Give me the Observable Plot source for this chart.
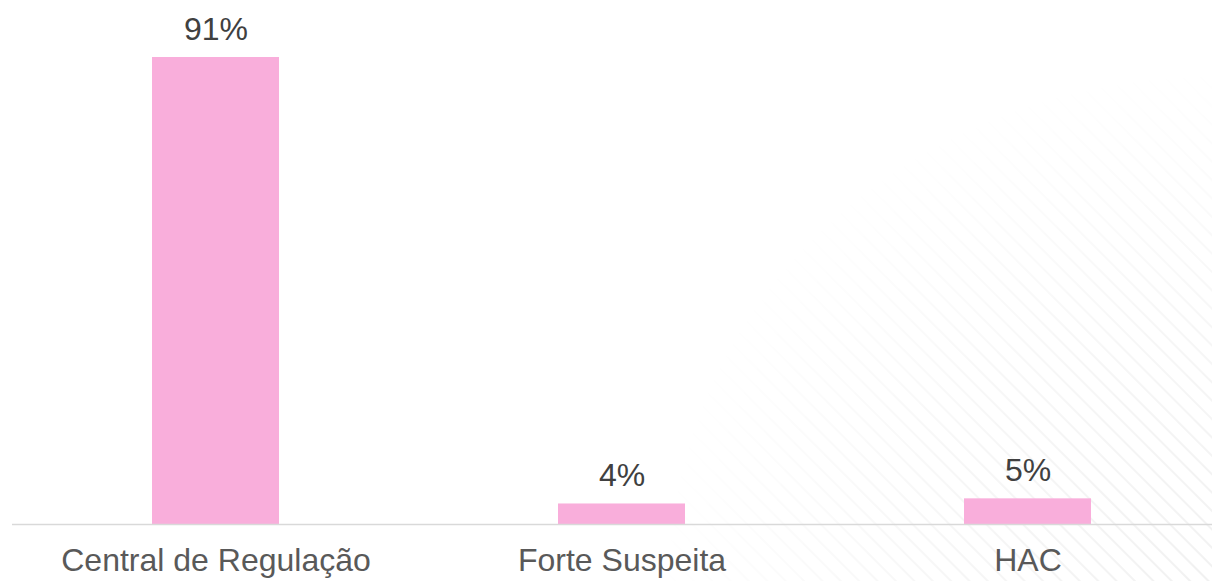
<!DOCTYPE html>
<html>
<head>
<meta charset="utf-8">
<script src="https://cdn.jsdelivr.net/npm/d3@7"></script>
<script src="https://cdn.jsdelivr.net/npm/@observablehq/plot@0.6"></script>
<style>
  html, body { margin: 0; padding: 0; background: #fff; overflow: hidden; }
  #wrap { position: relative; width: 1212px; height: 581px; }
  #hatch {
    position: absolute; left: 0; top: 0; width: 1212px; height: 581px;
    background: repeating-linear-gradient(45deg, rgba(0,0,0,0) 0px, rgba(0,0,0,0) 8px, rgba(0,0,0,0.055) 9px, rgba(0,0,0,0.055) 10px, rgba(0,0,0,0) 11px, rgba(0,0,0,0) 13px);
    -webkit-mask-image: radial-gradient(ellipse 560px 520px at 100% 100%, rgba(0,0,0,1) 0%, rgba(0,0,0,0.6) 50%, rgba(0,0,0,0) 100%);
    mask-image: radial-gradient(ellipse 560px 520px at 100% 100%, rgba(0,0,0,1) 0%, rgba(0,0,0,0.6) 50%, rgba(0,0,0,0) 100%);
  }
  #chart { position: absolute; left: 0; top: 0; }
</style>
</head>
<body>
<div id="wrap"><div id="hatch"></div><div id="chart"></div></div>
<script>
const categories = ["Central de Regulação", "Forte Suspeita", "HAC"];
const values = [91, 4, 5];
const valueLabels = ["91%", "4%", "5%"];

const data = categories.map((c, i) => ({category: c, value: values[i], label: valueLabels[i]}));

const chart = Plot.plot({
  width: 1212,
  height: 581,
  marginLeft: 12,
  marginRight: 0,
  marginTop: 57,
  marginBottom: 57,
  style: {fontFamily: "'Liberation Sans', Arial, sans-serif", background: "transparent"},
  x: {domain: categories, range: [11, 1231], paddingInner: 0.6875, paddingOuter: 0.34375, label: null},
  y: {domain: [0, 91], axis: null},
  marks: [
    Plot.barY(data, {x: "category", y: "value", fill: "#F9AEDB"}),
    Plot.ruleY([0], {stroke: "#D9D9D9", strokeWidth: 1.5}),
    Plot.text(data, {x: "category", y: "value", text: "label", dy: -18, lineAnchor: "bottom", fontSize: 32, fill: "#404040"}),
    Plot.axisX({tickSize: 0, tickPadding: 24, fontSize: 32, fill: "#595959", label: null})
  ]
});
document.getElementById("chart").appendChild(chart);
</script>
</body>
</html>
